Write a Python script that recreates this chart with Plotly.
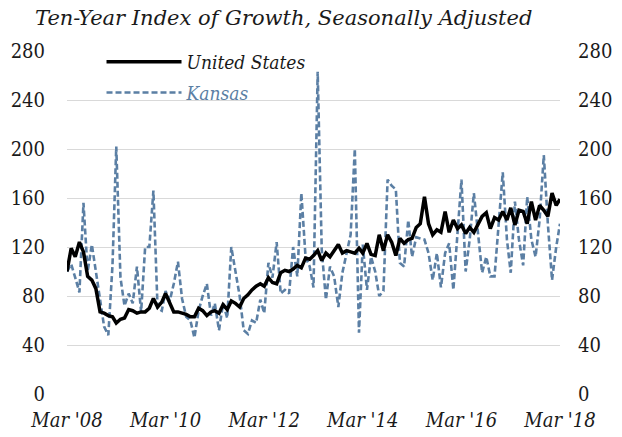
import pandas as pd
import plotly.graph_objects as go

# Monthly index values, Mar 2008 - Mar 2018 (Mar 2008 = 100)
months = pd.date_range("2008-03-01", periods=121, freq="MS")

united_states = [
    100, 119, 112, 124, 116, 96, 93, 86, 67, 66,
    64, 63, 58, 61, 62, 69, 68, 66, 67, 67,
    70, 78, 71, 75, 82, 75, 67, 67, 66, 65,
    63, 63, 70, 68, 64, 67, 68, 66, 73, 69,
    76, 74, 71, 78, 81, 85, 88, 90, 88, 95,
    91, 90, 99, 101, 100, 102, 105, 103, 111, 110,
    113, 117, 109, 115, 112, 117, 122, 115, 117, 116,
    115, 119, 115, 123, 114, 113, 130, 117, 130, 124,
    113, 127, 123, 126, 127, 136, 139, 161, 139, 130,
    134, 132, 149, 132, 142, 135, 138, 131, 136, 132,
    139, 145, 148, 135, 144, 142, 149, 142, 152, 138,
    150, 149, 139, 157, 142, 154, 150, 145, 164, 154,
    159,
]

kansas = [
    100, 106, 95, 83, 156, 100, 122, 100, 75, 55,
    48, 105, 202, 95, 72, 82, 74, 104, 67, 120,
    120, 166, 70, 68, 84, 76, 90, 108, 78, 63,
    60, 46, 68, 80, 90, 64, 74, 52, 74, 62,
    120, 101, 80, 52, 49, 60, 58, 77, 66, 107,
    95, 124, 82, 85, 82, 120, 96, 164, 112, 104,
    87, 263, 118, 77, 104, 96, 71, 99, 115, 130,
    200, 50, 122, 85, 112, 100, 80, 84, 175, 170,
    167, 107, 104, 142, 112, 128, 127, 126, 115, 93,
    115, 87, 115, 123, 85, 131, 175, 100, 126, 164,
    134, 99, 112, 96, 96, 136, 181, 126, 99, 157,
    126, 105, 161, 126, 112, 142, 195, 139, 93, 120,
    139,
]

y_ticks = [0, 40, 80, 120, 160, 200, 240, 280]
x_ticks = pd.date_range("2008-03-01", periods=6, freq="24MS")
x_labels = ["Mar '08", "Mar '10", "Mar '12", "Mar '14", "Mar '16", "Mar '18"]

SERIF = "DejaVu Serif"
SERIF_NARROW = "DejaVu Serif Condensed, DejaVu Serif"
KANSAS_BLUE = "#5B7FA4"
GRID = "#D9D9D9"
INK = "#1A1A1A"

fig = go.Figure()

fig.add_trace(go.Scatter(
    x=months, y=united_states, name="United States",
    legendgroup="us",
    mode="lines", line=dict(color="black", width=3.5),
    yaxis="y2",
))
fig.add_trace(go.Scatter(
    x=months, y=kansas,
    name=f"<span style='color:{KANSAS_BLUE}'>Kansas</span>",
    legendgroup="ks",
    mode="lines", line=dict(color=KANSAS_BLUE, width=2.6, dash="6px,3px"),
    yaxis="y",
))

axis_font = dict(family=SERIF_NARROW, size=20, color=INK)

fig.update_layout(
    width=622, height=437,
    margin=dict(l=67, r=62, t=51, b=43, autoexpand=False),
    paper_bgcolor="white", plot_bgcolor="white",
    font=dict(family=SERIF),
    title=dict(
        text="Ten-Year Index of Growth, Seasonally Adjusted",
        font=dict(family=SERIF, size=21, style="italic", color=INK),
        x=35 / 622, xanchor="left", xref="container",
        y=1 - 18 / 437, yanchor="middle", yref="container",
    ),
    legend=dict(
        x=0.07, xanchor="left", xref="paper",
        y=1 - 43 / 437, yanchor="top", yref="container",
        bgcolor="rgba(0,0,0,0)",
        font=dict(family=SERIF_NARROW, size=19, style="italic", color=INK),
        itemwidth=75,
        traceorder="grouped",
        tracegroupgap=3,
    ),
    xaxis=dict(
        range=[months[0], months[-1]],
        tickvals=x_ticks, ticktext=x_labels,
        tickfont=dict(family=SERIF_NARROW, size=20, style="italic", color=INK),
        showgrid=False, zeroline=False, showline=False, ticks="",
        ticklabelstandoff=12, automargin=False,
    ),
    yaxis=dict(
        range=[0, 280], tickvals=y_ticks,
        tickfont=axis_font,
        showgrid=True, gridcolor=GRID, gridwidth=1,
        zeroline=False, showline=False, ticks="",
        ticklabelstandoff=21, automargin=False,
    ),
    yaxis2=dict(
        range=[0, 280], tickvals=y_ticks,
        tickfont=axis_font,
        overlaying="y", side="right",
        showgrid=False, zeroline=False, showline=False, ticks="",
        ticklabelstandoff=17, automargin=False,
    ),
)

fig.write_html("out.html")
